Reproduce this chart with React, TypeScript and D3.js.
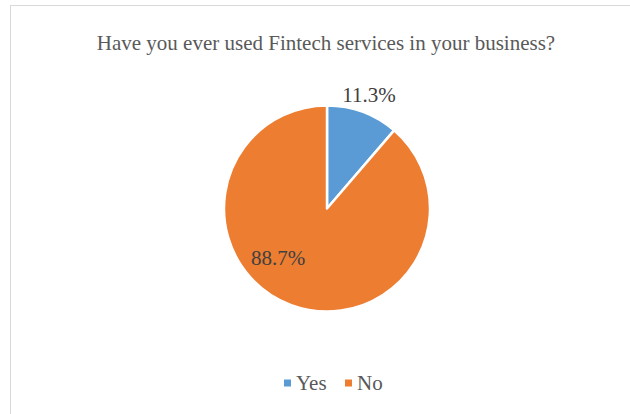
import { useRef, useEffect } from "react";
import * as d3 from "d3";

const categories = ["Yes", "No"];
const shares = [11.3, 88.7];
const colors = ["#5b9bd5", "#ed7d31"];
const title = "Have you ever used Fintech services in your business?";

export default function App() {
  const ref = useRef<SVGSVGElement>(null);

  useEffect(() => {
    if (!ref.current) return;
    const svg = d3.select(ref.current);
    svg.selectAll("*").remove();
    const width = 630;
    const height = 414;
    const font = "'Liberation Serif', 'Times New Roman', serif";
    const fs = "21px";

    svg.append("rect").attr("x", 0).attr("y", 0).attr("width", width).attr("height", height).attr("fill", "#fff");
    svg.append("rect")
      .attr("x", 10.5).attr("y", 5.5).attr("width", width).attr("height", height)
      .attr("fill", "none").attr("stroke", "#d9d9d9").attr("stroke-width", 1);

    svg.append("text")
      .attr("x", 326).attr("y", 50)
      .attr("text-anchor", "middle")
      .attr("font-family", font).attr("font-size", fs).attr("fill", "#595959")
      .text(title);

    const cx = 327, cy = 208.5, r = 103;
    const data = categories.map((c, i) => ({ c, v: shares[i], color: colors[i] }));
    const pie = d3.pie<any>().value(d => d.v).sort(null);
    const arcs = pie(data);
    const arc = d3.arc<any>().innerRadius(0).outerRadius(r);
    const g = svg.append("g").attr("transform", `translate(${cx},${cy})`);

    g.selectAll("path").data(arcs).enter().append("path")
      .attr("d", arc)
      .attr("fill", d => d.data.color)
      .attr("stroke", "#fff").attr("stroke-width", 2.5).attr("stroke-linejoin", "round");

    // label placement: Yes outside along mid angle, No inside (best fit)
    const labelArcs = [
      d3.arc<any>().innerRadius(121).outerRadius(121),
      null,
    ];
    arcs.forEach((a, i) => {
      let x: number, y: number;
      const la = labelArcs[i];
      if (la) {
        [x, y] = la.centroid(a);
      } else {
        const ang = (225 * Math.PI) / 180;
        x = Math.sin(ang) * 69;
        y = -Math.cos(ang) * 69;
      }
      g.append("text")
        .attr("x", x).attr("y", y)
        .attr("dy", "0.35em")
        .attr("text-anchor", "middle")
        .attr("font-family", font).attr("font-size", fs).attr("fill", "#404040")
        .text(`${a.data.v.toFixed(1)}%`);
    });

    const legend = svg.append("g").attr("transform", `translate(284,383)`);
    const offsets = [0, 61];
    data.forEach((d, i) => {
      const lg = legend.append("g").attr("transform", `translate(${offsets[i]},0)`);
      lg.append("rect").attr("x", 0).attr("y", -3.5).attr("width", 7).attr("height", 7).attr("fill", d.color);
      lg.append("text")
        .attr("x", 12).attr("y", 0).attr("dy", "0.35em")
        .attr("font-family", font).attr("font-size", fs).attr("fill", "#595959")
        .text(d.c);
    });
  }, []);

  return (
    <svg
      ref={ref}
      width={630}
      height={414}
      style={{ position: "absolute", left: 0, top: 0 }}
    />
  );
}
